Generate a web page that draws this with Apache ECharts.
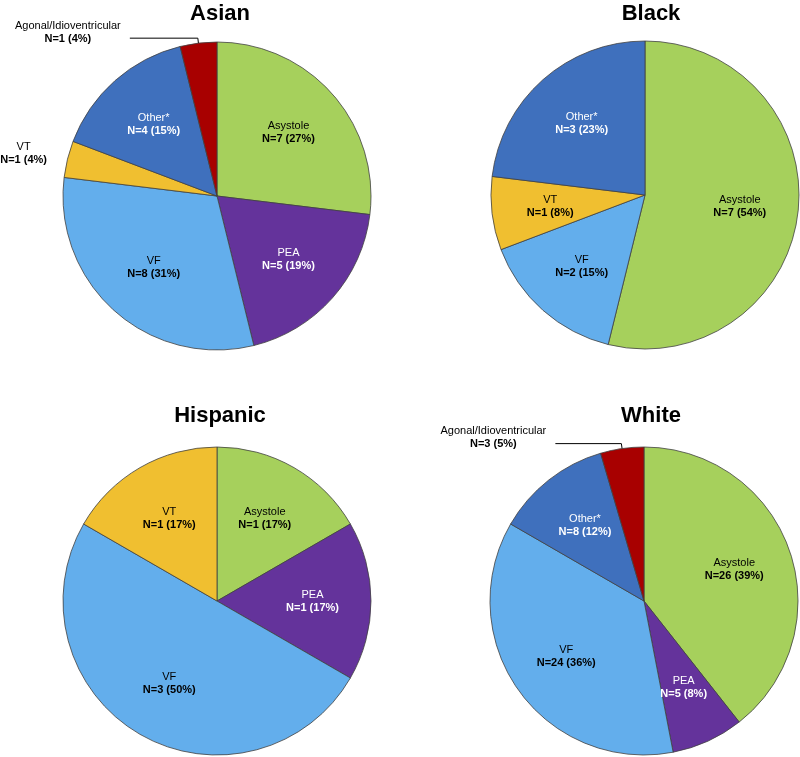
<!DOCTYPE html>
<html>
<head>
<meta charset="utf-8">
<script src="https://cdn.jsdelivr.net/npm/echarts@6/dist/echarts.min.js"></script>
<style>
  html, body { margin: 0; padding: 0; background: #ffffff; }
  #chart { width: 800px; height: 757px; }
</style>
</head>
<body>
<div id="chart"></div>
<script>
// ---- Data ----
const categories = ['Asystole', 'PEA', 'VF', 'VT', 'Other*', 'Agonal/Idioventricular'];
const groupNames = ['Asian', 'Black', 'Hispanic', 'White'];
const asianCounts    = [7, 5, 8, 1, 4, 1];
const blackCounts    = [7, 0, 2, 1, 3, 0];
const hispanicCounts = [1, 1, 3, 1, 0, 0];
const whiteCounts    = [26, 5, 24, 0, 8, 3];

// ---- Styles ----
const sliceColors = {
  'Asystole': '#a6d05c',
  'PEA': '#64339b',
  'VF': '#63aeec',
  'VT': '#f0bf30',
  'Other*': '#3f70bd',
  'Agonal/Idioventricular': '#a80000'
};
const textColors = {
  'Asystole': '#000000',
  'PEA': '#ffffff',
  'VF': '#000000',
  'VT': '#000000',
  'Other*': '#ffffff',
  'Agonal/Idioventricular': '#000000'
};
const FONT = '"Liberation Sans", Arial, Helvetica, sans-serif';
const R = 154;

// ---- Layout ----
const panels = [
  { name: groupNames[0], counts: asianCounts, center: [217, 196], title: [215, -2],
    outside: {
      'VT': { length: 5, length2: 6, line: false, width: 50, padBottom: 8 },
      'Agonal/Idioventricular': { length: 5, length2: 68, line: true, width: 108, padBottom: 12 }
    } },
  { name: groupNames[1], counts: blackCounts, center: [645, 195], title: [646, -2], outside: {} },
  { name: groupNames[2], counts: hispanicCounts, center: [217, 601], title: [215, 400], outside: {} },
  { name: groupNames[3], counts: whiteCounts, center: [644, 601], title: [646, 400],
    outside: {
      'Agonal/Idioventricular': { length: 5, length2: 66, line: true, width: 108, padBottom: 12 }
    } }
];

const titles = [];
const series = [];

panels.forEach(function (p) {
  const items = categories
    .map(function (c, i) { return { name: c, value: p.counts[i] }; })
    .filter(function (d) { return d.value > 0; });
  const total = items.reduce(function (s, d) { return s + d.value; }, 0);
  const fmt = function (prm) {
    const pct = Math.round(prm.value / total * 100);
    return '{n|' + prm.name + '}\n{b|N=' + prm.value + ' (' + pct + '%)}';
  };

  titles.push({
    text: p.name,
    left: p.title[0],
    top: p.title[1],
    textAlign: 'center',
    textStyle: { fontSize: 22, fontWeight: 'bold', color: '#000', fontFamily: FONT }
  });

  // main pie: slices + outside labels
  series.push({
    type: 'pie',
    radius: R,
    center: p.center,
    startAngle: 90,
    clockwise: true,
    avoidLabelOverlap: false,
    silent: true,
    itemStyle: { borderColor: '#404040', borderWidth: 0.8 },
    data: items.map(function (d) {
      const o = p.outside[d.name];
      const item = {
        name: d.name,
        value: d.value,
        itemStyle: { color: sliceColors[d.name] }
      };
      if (o) {
        item.label = {
          show: true,
          position: 'outside',
          formatter: fmt,
          color: '#000',
          fontFamily: FONT,
          fontSize: 11,
          padding: [0, 0, o.padBottom, 0],
          distanceToLabelLine: 8,
          rich: {
            n: { fontSize: 11, lineHeight: 13, width: o.width, align: 'center', fontFamily: FONT, color: '#000' },
            b: { fontSize: 11, lineHeight: 13, fontWeight: 'bold', width: o.width, align: 'center', fontFamily: FONT, color: '#000' }
          }
        };
        item.labelLine = {
          show: o.line,
          length: o.length,
          length2: o.length2,
          smooth: false,
          lineStyle: { color: '#000', width: 1 }
        };
      } else {
        item.label = { show: false };
        item.labelLine = { show: false };
      }
      return item;
    })
  });

  // overlay ring carrying inside labels (transparent)
  series.push({
    type: 'pie',
    radius: [31, R],
    center: p.center,
    startAngle: 90,
    clockwise: true,
    avoidLabelOverlap: false,
    silent: true,
    itemStyle: { color: 'rgba(0,0,0,0)', borderWidth: 0 },
    labelLine: { show: false },
    data: items.map(function (d) {
      const inside = !p.outside[d.name];
      return {
        name: d.name,
        value: d.value,
        label: inside ? {
          show: true,
          position: 'inside',
          formatter: fmt,
          color: textColors[d.name],
          fontFamily: FONT,
          fontSize: 11,
          rich: {
            n: { fontSize: 11, lineHeight: 13, fontFamily: FONT, color: textColors[d.name] },
            b: { fontSize: 11, lineHeight: 13, fontWeight: 'bold', fontFamily: FONT, color: textColors[d.name] }
          }
        } : { show: false }
      };
    })
  });
});

const chart = echarts.init(document.getElementById('chart'), null, { renderer: 'canvas' });
chart.setOption({
  backgroundColor: '#ffffff',
  animation: false,
  title: titles,
  series: series
});
</script>
</body>
</html>
